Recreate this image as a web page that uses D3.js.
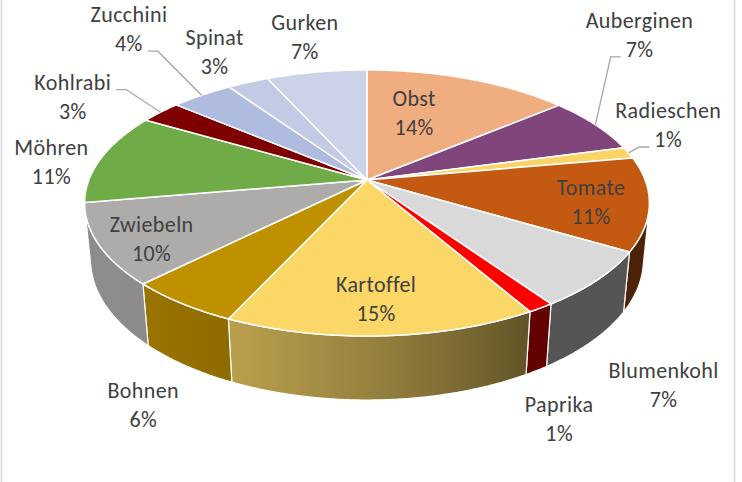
<!DOCTYPE html>
<html>
<head>
<meta charset="utf-8">
<script src="https://cdn.jsdelivr.net/npm/d3@7"></script>
<style>
  body { margin: 0; background: #fff; }
  svg { display: block; }
</style>
</head>
<body>
<div id="chart"></div>
<script>
// data, clockwise from 12 o'clock
var categories = ["Obst", "Auberginen", "Radieschen", "Tomate", "Blumenkohl", "Paprika", "Kartoffel",
                  "Bohnen", "Zwiebeln", "Möhren", "Kohlrabi", "Zucchini", "Spinat", "Gurken"];
var shares = [13.9, 6.9, 1.4, 11.3, 6.9, 1.3, 15.2, 5.6, 9.8, 11.1, 2.8, 4.2, 2.8, 6.8];

// styling
var colors = ["#F0AD80", "#80457A", "#FAD467", "#C45A12", "#D9D9D9", "#FF0000", "#FAD767",
              "#BF9000", "#AEABAB", "#6FAB47", "#7F0000", "#B0BCDF", "#C3CAE5", "#CCD2E8"];
var labelRadius = [0.595, 1.847, 1.254, 0.80, 1.503, 1.499, 0.80, 1.477, 0.834, 1.169, 1.393, 1.81, 1.362, 1.392];
var labelShift = [-6.8, -21.3, -8.7, 1.9, 13.2, 11.8, 0.5, -10.2, -3.3, -3.6, -4, 5.8, 0.5, 0.8];
var leaderLine = [null, 1, 1, null, null, null, null, null, null, null, 0, 1, null, null];

function main() {
    var width = 742,
      height = 482;

    // perspective view of a flat disc (radius 1, thickness H)
    var cx = 367, cy = 180, F = 1424, D = 5.12, ce = 0.886, se = 0.464, H = 0.2335;
    function proj(t, r, z) {
        var x = r * Math.sin(t), y = r * Math.cos(t);
        var depth = D + ce * y - se * z;
        return [cx + F * x / depth, cy - F * (se * y + ce * z) / depth];
    }
    function arcPts(a0, a1, r, z) {
        var n = Math.max(2, Math.ceil((a1 - a0) / (Math.PI / 360)));
        return d3.range(n + 1).map(function(i) { return proj(a0 + (a1 - a0) * i / n, r, z); });
    }

    var pie = d3.pie().sort(null).value(function(d) { return d; });
    var arcs = pie(shares);
    var total = d3.sum(shares);
    var color = d3.scaleOrdinal().domain(categories).range(colors);
    var light = function(t) { return 0.39 + 0.43 * Math.max(0, Math.cos(t - 240 * Math.PI / 180)); };
    var line = d3.line();

    var svg = d3.select("#chart").append("svg").attr("width", width).attr("height", height);
    var defs = svg.append("defs");

    // chart area frame
    svg.append("line").attr("x1", 1.5).attr("x2", 1.5).attr("y1", 0).attr("y2", height)
      .attr("stroke", "#D9D9D9").attr("stroke-width", 1.5);
    svg.append("line").attr("x1", 734.5).attr("x2", 734.5).attr("y1", 0).attr("y2", height)
      .attr("stroke", "#D9D9D9").attr("stroke-width", 1.5);

    // outer walls, only the part turned to the viewer
    var vis0 = Math.acos(-1 / (D * ce)), vis1 = 2 * Math.PI - vis0;
    var gWall = svg.append("g").attr("class", "walls");
    arcs.forEach(function(d, i) {
        var a0 = Math.max(d.startAngle, vis0), a1 = Math.min(d.endAngle, vis1);
        if (a1 <= a0) return;
        var top = arcPts(a0, a1, 1, 0),
          bot = arcPts(a0, a1, 1, -H).reverse();
        var base = d3.rgb(color(categories[i]));
        var xs = proj(a0, 1, -H / 2)[0], xe = proj(a1, 1, -H / 2)[0];
        var grad = defs.append("linearGradient").attr("id", "wall" + i)
          .attr("gradientUnits", "userSpaceOnUse")
          .attr("x1", xs).attr("x2", xe).attr("y1", 0).attr("y2", 0);
        d3.range(11).forEach(function(k) {
            var t = a0 + (a1 - a0) * k / 10;
            var x = proj(t, 1, -H / 2)[0];
            var f = light(t);
            grad.append("stop")
              .attr("offset", Math.abs(xe - xs) < 0.01 ? k / 10 : (x - xs) / (xe - xs))
              .attr("stop-color", d3.rgb(base.r * f, base.g * f, base.b * f));
        });
        gWall.append("path")
          .attr("d", line(top.concat(bot)) + "Z")
          .attr("fill", "url(#wall" + i + ")")
          .attr("stroke", "#fff").attr("stroke-width", 1.2).attr("stroke-linejoin", "round");
    });

    // top faces
    var gTop = svg.append("g").attr("class", "tops");
    gTop.selectAll("path")
      .data(arcs)
    .enter().append("path")
      .attr("d", function(d) { return line([proj(0, 0, 0)].concat(arcPts(d.startAngle, d.endAngle, 1, 0))) + "Z"; })
      .attr("fill", function(d, i) { return color(categories[i]); })
      .attr("stroke", "#fff").attr("stroke-width", 1.5).attr("stroke-linejoin", "round");

    // labels
    var gLab = svg.append("g").attr("class", "labels")
      .attr("font-family", "Carlito, Lato, sans-serif").attr("font-size", 22).attr("fill", "#404040")
      .attr("letter-spacing", 0.4).attr("text-anchor", "middle");
    arcs.forEach(function(d, i) {
        var mid = (d.startAngle + d.endAngle) / 2;
        var p = proj(mid + labelShift[i] * Math.PI / 180, labelRadius[i], 0);
        var txt = gLab.append("text");
        var lines = [categories[i], Math.round(shares[i] / total * 100) + "%"];
        var spans = lines.map(function(s, k) {
            return txt.append("tspan").attr("x", p[0]).attr("y", p[1] - 7.5 + 29 * k).text(s);
        });
        if (leaderLine[i] !== null) {
            var k = leaderLine[i];
            var w = spans[k].node().getComputedTextLength();
            var rim = proj(mid, 1, 0);
            var ly = p[1] - 7.5 + 29 * k;
            var dir = rim[0] > p[0] ? 1 : -1;
            var sx = p[0] + dir * (w / 2 + 5);
            svg.append("path")
              .attr("d", line([[sx, ly], [sx + dir * 10, ly], rim]))
              .attr("fill", "none").attr("stroke", "#A6A6A6").attr("stroke-width", 1.3);
        }
    });
}

main();
</script>
</body>
</html>
